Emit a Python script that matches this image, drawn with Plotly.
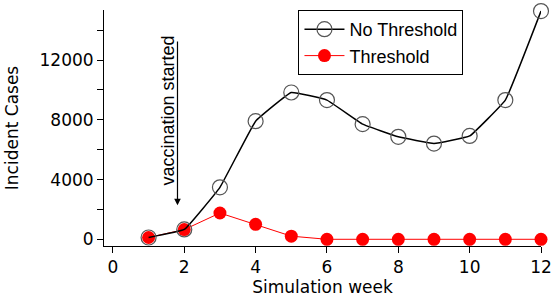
import plotly.graph_objects as go

weeks = [1, 2, 3, 4, 5, 6, 7, 8, 9, 10, 11, 12]
no_threshold = [120, 660, 3480, 7910, 9830, 9320, 7710, 6860, 6410, 6920, 9320, 15280]
threshold = [120, 650, 1760, 1000, 210, 0, 0, 0, 0, 0, 0, 0]
x_ticks = [0, 2, 4, 6, 8, 10, 12]
y_ticks = [0, 4000, 8000, 12000]
y_labels = ["0", "4000", "8000", "12000"]
y_minor = [2000, 6000, 10000, 14000]

fig = go.Figure()
fig.add_trace(go.Scatter(
    x=weeks, y=threshold, name="Threshold", mode="lines+markers",
    line=dict(color="#ff0000", width=1),
    marker=dict(symbol="circle", size=13, color="#ff0000", line=dict(width=0)),
    legendrank=2, cliponaxis=False,
))
fig.add_trace(go.Scatter(
    x=weeks, y=no_threshold, name="No Threshold", mode="lines+markers",
    line=dict(color="black", width=1.5, shape="spline", smoothing=0.25),
    marker=dict(symbol="circle-open", size=15, color="#555555", line=dict(width=1.2)),
    legendrank=1, cliponaxis=False,
))

fig.add_annotation(x=1.81, y=2280, ax=1.81, ay=13340, axref="x", ayref="y",
                   xref="x", yref="y", text="", showarrow=True,
                   arrowhead=2, arrowsize=1.1, arrowwidth=1.2, arrowcolor="black")
fig.add_annotation(x=1.81, y=8650, xref="x", yref="y", xshift=-9,
                   text="vaccination started", textangle=-90, showarrow=False,
                   font=dict(family="Liberation Sans, Arial", size=18, color="black"))

fig.update_layout(
    width=555, height=305,
    margin=dict(l=104, r=14, t=10, b=59, autoexpand=False),
    plot_bgcolor="white", paper_bgcolor="white",
    font=dict(family="DejaVu Sans", size=17, color="black"),
    showlegend=True,
    legend=dict(x=0.445, y=1.0, xanchor="left", yanchor="top",
                bordercolor="black", borderwidth=1, bgcolor="white",
                font=dict(family="Liberation Sans, Arial", size=18),
                tracegroupgap=0, itemwidth=40),
    xaxis=dict(range=[-0.25, 12], tickvals=x_ticks, ticks="outside",
               ticklen=6, tickcolor="black", showline=True, linecolor="black",
               linewidth=1, showgrid=False, zeroline=False, automargin=False,
               title=dict(text="Simulation week", standoff=0,
                          font=dict(family="DejaVu Sans", size=17)),
               tickfont=dict(size=17)),
    yaxis=dict(range=[-449, 15352], tickvals=y_ticks, ticktext=y_labels, ticks="outside",
               ticklen=6, tickcolor="black", showline=True, linecolor="black",
               linewidth=1, showgrid=False, zeroline=False, automargin=False,
               minor=dict(tickvals=y_minor, ticks="outside", ticklen=6, tickcolor="black"),
               title=dict(text="Incident Cases", standoff=16,
                          font=dict(family="DejaVu Sans", size=17)),
               tickfont=dict(size=17)),
)

fig.write_html("out.html", config={"displayModeBar": False},
               post_script="document.body.style.margin='0';")
